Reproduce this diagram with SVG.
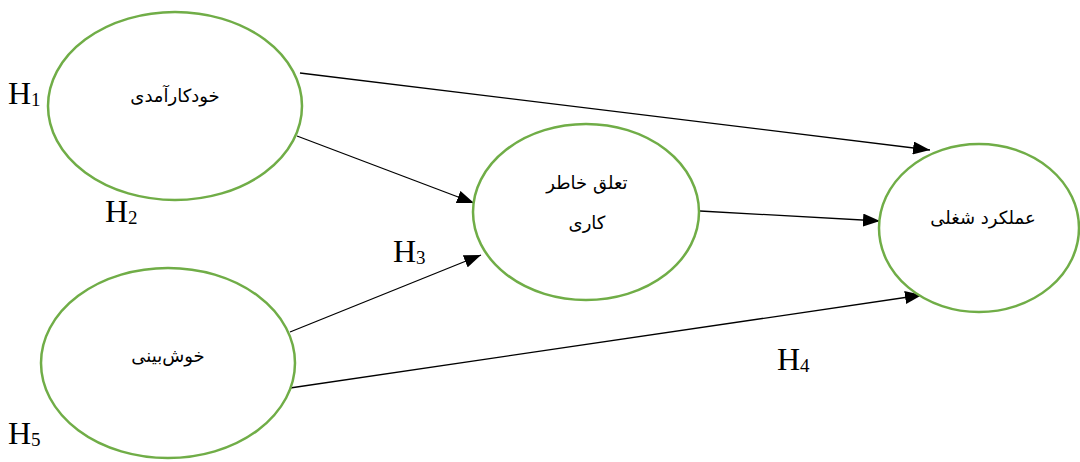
<svg xmlns="http://www.w3.org/2000/svg" width="1080" height="462" viewBox="0 0 1080 462">
<style>
.node ellipse{fill:#fff;stroke:#70AD47;stroke-width:2.5}
.lbl{font-family:"DejaVu Sans","Noto Sans",sans-serif;font-size:18px;fill:#000;text-anchor:middle}
.h{font-family:"Liberation Serif","Times New Roman",serif;font-size:32px;fill:#000}
.h tspan{font-size:19px}
.conn line{stroke:#000;stroke-width:1.3;fill:none}
</style>
<defs>
<marker id="ah" viewBox="0 0 17 13" refX="17" refY="6.5" markerWidth="17" markerHeight="13" markerUnits="userSpaceOnUse" orient="auto">
<path d="M0,0 L17,6.5 L0,13 Z" fill="#000"/>
</marker>
</defs>
<g class="conn">
<line x1="300" y1="73" x2="930" y2="150" marker-end="url(#ah)"/>
<line x1="297" y1="136" x2="474" y2="203" marker-end="url(#ah)"/>
<line x1="290" y1="332" x2="481" y2="255" marker-end="url(#ah)"/>
<line x1="290" y1="388" x2="922" y2="295" marker-end="url(#ah)"/>
<line x1="700" y1="211" x2="880" y2="221" marker-end="url(#ah)"/>
</g>
<g id="n1" class="node">
<ellipse cx="175" cy="106" rx="127" ry="94"/>
<text class="lbl" x="175" y="102">خودکارآمدی</text>
</g>
<g id="n2" class="node">
<ellipse cx="168" cy="363" rx="127" ry="95"/>
<text class="lbl" x="168" y="362">خوش&#8204;بینی</text>
</g>
<g id="n3" class="node">
<ellipse cx="586" cy="212" rx="113" ry="88"/>
<text class="lbl" x="587" y="189">تعلق خاطر</text>
<text class="lbl" x="587" y="229">کاری</text>
</g>
<g id="n4" class="node">
<ellipse cx="979" cy="228" rx="100" ry="84"/>
<text class="lbl" x="983" y="224">عملکرد شغلی</text>
</g>
<g id="labels">
<text class="h" x="8" y="104">H<tspan dy="2">1</tspan></text>
<text class="h" x="105" y="222">H<tspan dy="2">2</tspan></text>
<text class="h" x="393" y="262">H<tspan dy="2">3</tspan></text>
<text class="h" x="777" y="370">H<tspan dy="2">4</tspan></text>
<text class="h" x="8" y="444">H<tspan dy="2">5</tspan></text>
</g>
</svg>
